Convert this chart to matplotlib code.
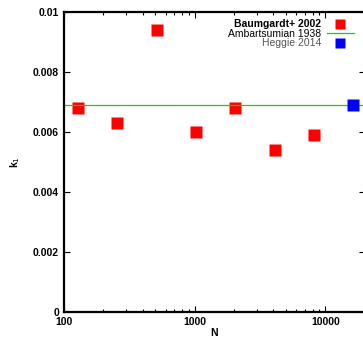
import matplotlib
matplotlib.use("Agg")
import matplotlib.pyplot as plt
from matplotlib.ticker import FixedLocator, FuncFormatter

plt.rcParams['font.family'] = ['Liberation Sans', 'DejaVu Sans']

# data
baum_n = [128, 256, 512, 1024, 2048, 4096, 8192]
baum_k = [0.0068, 0.0063, 0.0094, 0.0060, 0.0068, 0.0054, 0.0059]
ambart_k = 0.0069
heggie_n = [16384]
heggie_k = [0.0069]

yticks = [0, 0.002, 0.004, 0.006, 0.008, 0.01]
ylabels = ["0", "0.002", "0.004", "0.006", "0.008", "0.01"]

fig = plt.figure(figsize=(3.63, 3.40), dpi=100)
ax = fig.add_axes([0.176, 0.082, 0.829, 0.883])

ax.plot(baum_n, baum_k, 's', color='#ff0000', ms=8, mec='none', label='Baumgardt+ 2002', clip_on=False)
ax.axhline(ambart_k, color='#00dd00', lw=0.9, label='Ambartsumian 1938')
ax.plot(heggie_n, heggie_k, 's', color='#0000ff', ms=8, mec='none', label='Heggie 2014', clip_on=False, zorder=5)

ax.set_xscale('log')
ax.set_xlim(100, 20000)
ax.set_ylim(0, 0.01)
ax.yaxis.set_major_locator(FixedLocator(yticks))
ax.set_yticklabels(ylabels)
ax.xaxis.set_major_formatter(FuncFormatter(lambda v, p: "%d" % v))

for s in ax.spines.values():
    s.set_linewidth(1.6)
ax.tick_params(which='both', direction='in', top=True, right=True, labelsize=7.5)
ax.tick_params(which='major', length=4, width=0.8)
ax.tick_params(which='minor', length=2.5, width=0.8)
for t in ax.get_xticklabels() + ax.get_yticklabels():
    t.set_fontweight('bold')

ax.set_xlabel('N', fontsize=7.5, fontweight='bold', labelpad=1)
ax.set_ylabel('k$_1$', fontsize=7.5, fontweight='bold', labelpad=8)

leg = ax.legend(loc='upper right', bbox_to_anchor=(0.987, 1.0), frameon=False, markerfirst=False,
                handlelength=2.6, handletextpad=0.5, labelspacing=-0.04, borderaxespad=0.3,
                markerscale=0.9, prop={'size': 7.5})
texts = leg.get_texts()
texts[0].set_fontweight('bold')
texts[2].set_color('#555555')
for t in texts:
    t.set_ha('right')

fig.savefig('out.png', dpi=100)
